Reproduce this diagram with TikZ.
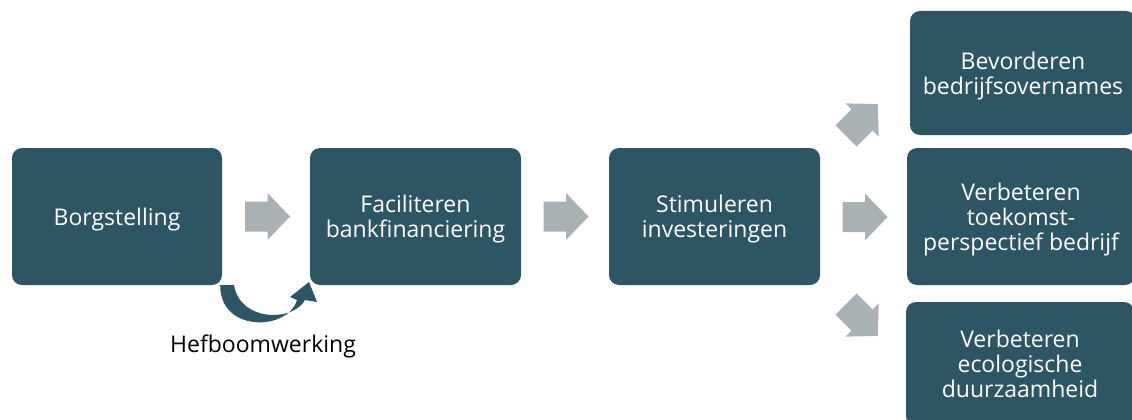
\documentclass[tikz,border=0pt]{standalone}
\usepackage{fontspec}
\setmainfont{Open Sans}

\definecolor{blokkleur}{RGB}{46,85,99}
\definecolor{pijlkleur}{RGB}{170,177,181}

\tikzset{
  blok/.style={fill=blokkleur, rounded corners=10pt, text=white, align=center,
    font=\fontsize{23}{25}\selectfont, inner sep=0pt, text depth=0pt},
  blokpijl/.pic={
    \fill[pijlkleur] (-22.5,-15) -- (0,-15) -- (0,-23.5) -- (22.5,0)
      -- (0,23.5) -- (0,15) -- (-22.5,15) -- cycle;
  }
}

\begin{document}
\begin{tikzpicture}[x=1pt,y=-1pt]

\useasboundingbox (0,0) rectangle (1132,420);
\clip (0,0) rectangle (1132,420);

\node[blok, minimum width=210pt, minimum height=137pt] (borg) at (117,216.5) {Borgstelling};
\node[blok, minimum width=211pt, minimum height=137pt] (facil) at (415.5,216.5) {Faciliteren\\bankfinanciering};
\node[blok, minimum width=211pt, minimum height=137pt] (stim) at (714.5,216.5) {Stimuleren\\investeringen};

\node[blok, minimum width=226pt, minimum height=124pt] (bevord) at (1023,73) {Bevorderen\\bedrijfsovernames};
\node[blok, minimum width=228pt, minimum height=137pt] (toekomst) at (1021,216.5) {Verbeteren\\toekomst-\\perspectief bedrijf};
\node[blok, minimum width=228pt, minimum height=124pt] (ecol) at (1020,364) {Verbeteren\\ecologische\\duurzaamheid};

% blokpijlen
\pic (p1) at (267.5,216.5) {blokpijl};
\pic (p2) at (566,216.5) {blokpijl};
\pic (p3) at (865,217) {blokpijl};
\pic[rotate=45] (p4) at (862,120) {blokpijl};
\pic[rotate=-45] (p5) at (862,320) {blokpijl};

% hefboom
\fill[blokkleur] (borg.south east) ++(-2,0) .. controls (220,333) and (288,331) .. (297,300)
  -- (290,297) -- (309,282) -- (317,302) -- (305,300)
  .. controls (293,322) and (240,322) .. (234,285) -- cycle;
\node[font=\fontsize{23}{25}\selectfont] (hefboom) at (263,346) {Hefboomwerking};

\end{tikzpicture}
\end{document}
